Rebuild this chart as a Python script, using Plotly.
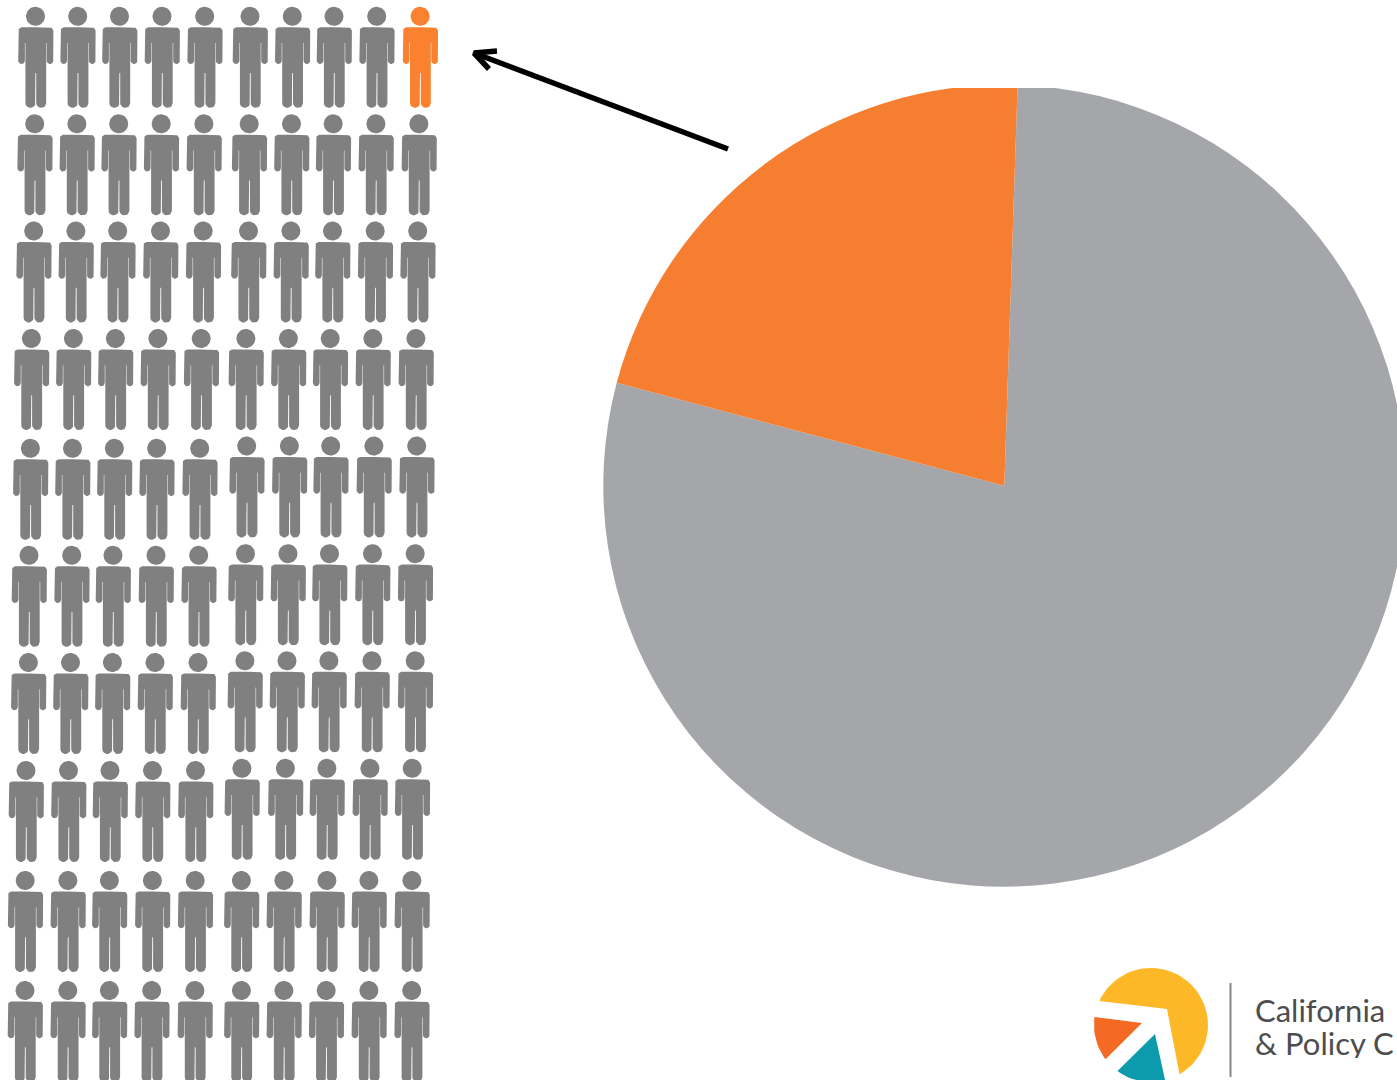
import numpy as np
import plotly.graph_objects as go

# ---- data ----
pie_labels = ["Others", "Highlighted share"]
pie_values = [78.6, 21.4]
pie_colors = ["#A5A6A9", "#F57E31"]

# body centres of the pictogram, one list per row
people_x = [
    [35.8, 78, 119.8, 162.3, 205, 250.3, 292.6, 334.3, 377, 420.4],
    [35, 77.2, 119, 161.5, 204.2, 249.5, 291.8, 333.5, 376.2, 419.2],
    [34, 76.2, 118, 160.8, 203.5, 248.8, 291.2, 332.8, 375.5, 418],
    [31.7, 73.7, 115.7, 158.2, 201.5, 246.2, 288.7, 330.5, 373.2, 416.2],
    [30.7, 72.8, 114.7, 157, 200, 247, 289.7, 331, 374.2, 417],
    [29.3, 72, 113.3, 156.3, 199, 245.8, 288.3, 329.8, 372.8, 415.5],
    [28.7, 70.8, 112.7, 155.3, 198.3, 245.2, 287.3, 329.2, 372.2, 415.5],
    [26.3, 68.8, 110.3, 152.8, 195.8, 242.2, 285.7, 327.2, 370.2, 412.5],
    [25.5, 68.2, 109.7, 152.7, 195.5, 241.7, 284.2, 327.2, 369.2, 412.2],
    [25.3, 68.1, 109.7, 152, 195.2, 241.7, 284.2, 326.5, 369.2, 412],
]
people_y_left = [16.3, 123.8, 231, 338.5, 448.3, 555.3, 662.5, 770.5, 880.5, 990.5]
people_y_right = [16.3, 123.8, 231, 338.5, 446, 553.7, 660.8, 768.3, 880.5, 990.5]
highlighted = (0, 9)

arrow_x = [728, 474, None, 497, 474, 489]
arrow_y = [149, 53, None, 51, 53, 69]

logo_text = ["California", "& Policy C"]

# ---- canvas ----
W, H = 1410, 1080
PIE_CX, PIE_CY, PIE_R = 1004.3, 485.7, 401


def arc(cx, cy, r, a0, a1, n=10):
    t = np.radians(np.linspace(a0, a1, n))
    return list(cx + r * np.cos(t)), list(cy + r * np.sin(t))


def person_template():
    xs, ys = [0.0], [10.9]
    for ax, ay in [arc(13.6, 14.9, 4, -90, 0), arc(14.25, 44.35, 3.35, 0, 180)]:
        xs += ax
        ys += ay
    xs += [10.9, 10.4]
    ys += [26.7, 26.7]
    ax, ay = arc(5.4, 86.65, 5.0, 0, 180)
    xs += ax + [0.4, 0.0]
    ys += ay + [56.7, 56.7]
    xs = np.array(xs)
    ys = np.array(ys)
    bx = list(xs) + list(-xs[::-1])
    by = list(ys) + list(ys[::-1])
    hx, hy = arc(-0.3, 0, 9.5, 0, 360, 36)
    return (bx, by), (hx, hy)


body, head = person_template()


def add_person(px, py, x, y):
    for tx, ty in (body, head):
        px += [x + v for v in tx] + [None]
        py += [y + v for v in ty] + [None]


grey_x, grey_y, orange_x, orange_y = [], [], [], []
for r, row in enumerate(people_x):
    for c, x in enumerate(row):
        y = people_y_left[r] if c < 5 else people_y_right[r]
        if (r, c) == highlighted:
            add_person(orange_x, orange_y, x, y)
        else:
            add_person(grey_x, grey_y, x, y)

fig = go.Figure()


def poly(x, y, color):
    fig.add_trace(go.Scatter(x=x, y=y, mode="lines", fill="toself", fillcolor=color,
                             line=dict(width=0, color=color), hoverinfo="skip", showlegend=False))


poly(grey_x, grey_y, "#808080")
poly(orange_x, orange_y, "#F9812F")

fig.add_trace(go.Pie(
    labels=pie_labels, values=pie_values, sort=False, direction="clockwise", rotation=1.9,
    marker=dict(colors=pie_colors, line=dict(width=0)), textinfo="none", hoverinfo="label+percent",
    showlegend=False,
    domain=dict(x=[(PIE_CX - PIE_R) / W, (PIE_CX + PIE_R) / W],
                y=[1 - (PIE_CY + PIE_R) / H, 1 - (PIE_CY - PIE_R) / H]),
))
# the source artwork crops the top of the pie with a flat edge
fig.add_shape(type="rect", x0=930, x1=1080, y0=0, y1=88, xref="x", yref="y", layer="above",
              fillcolor="white", line=dict(width=0))

fig.add_trace(go.Scatter(x=arrow_x, y=arrow_y, mode="lines",
                         line=dict(color="#000000", width=5.5), hoverinfo="skip", showlegend=False))

# logo
LX, LY, LR = 1151, 1025, 57
ax, ay = arc(LX, LY, LR, 60, -155, 50)
poly([1167] + ax + [1167], [1009] + ay + [1009], "#FDB827")
ax, ay = arc(LX, LY, LR, 188, 143, 14)
poly([1142] + ax + [1142], [1023] + ay + [1023], "#F46A25")
ax, ay = arc(LX, LY, LR, 75.7, 126, 14)
poly([1155] + ax + [1155], [1034] + ay + [1034], "#0C9BAC")
fig.add_trace(go.Scatter(x=[1230.5, 1230.5], y=[983, 1077], mode="lines",
                         line=dict(color="#85858A", width=2), hoverinfo="skip", showlegend=False))
for text, y in zip(logo_text, [1010, 1043]):
    fig.add_annotation(x=1253, y=y, text=text, showarrow=False, xanchor="left", yanchor="middle",
                       height=30, font=dict(family="Lato", size=31, color="#4D4D4F"))

fig.update_layout(
    width=W, height=H, margin=dict(l=0, r=0, t=0, b=0),
    paper_bgcolor="white", plot_bgcolor="white", showlegend=False,
    xaxis=dict(range=[0, W], visible=False, fixedrange=True),
    yaxis=dict(range=[H, 0], visible=False, fixedrange=True),
)
fig.write_html("out.html", config=dict(displayModeBar=False),
               post_script="document.body.style.margin='0';document.body.style.overflow='hidden';")
